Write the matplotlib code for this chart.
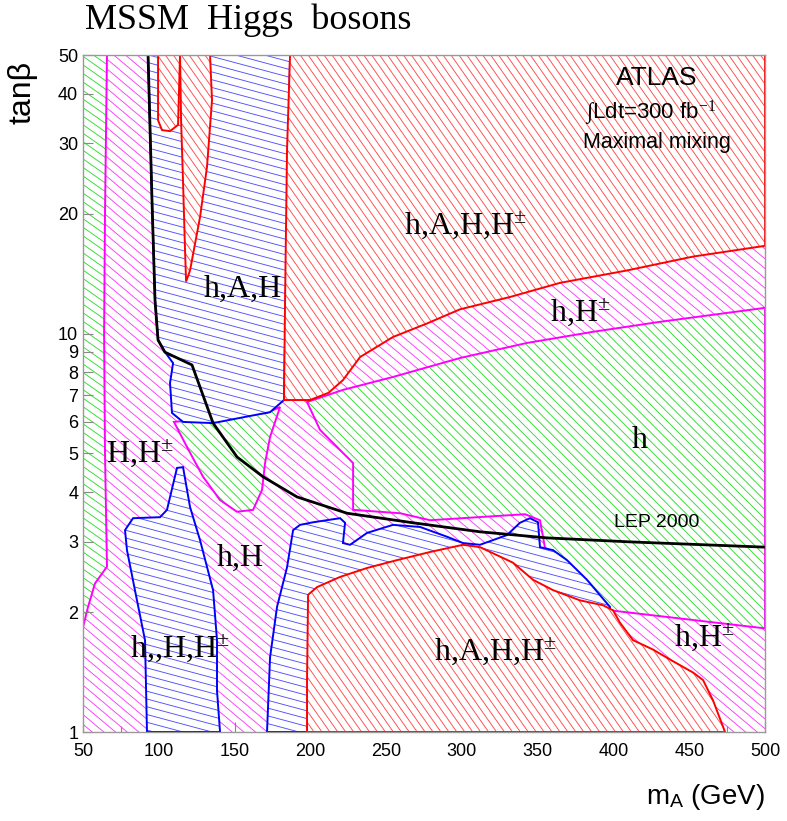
import numpy as np
import matplotlib.pyplot as plt
from matplotlib.patches import Polygon
from matplotlib.collections import LineCollection

plt.rcParams['mathtext.fontset'] = 'custom'
plt.rcParams['mathtext.rm'] = 'Liberation Serif'
plt.rcParams['mathtext.sf'] = 'Liberation Sans'
plt.rcParams['mathtext.it'] = 'Liberation Serif:italic'

# region boundaries: (m_A [GeV], tan beta)
green_strip_m = [50, 65.8, 64.5, 63.9, 64.5, 65.8, 57.9, 53.3, 50]
green_strip_tb = [50, 50, 20, 10, 5, 2.6, 2.36, 2.06, 1.83]

green_small_m = [110, 171.4, 180, 173.4, 170.1, 168.1, 162.2, 151.6, 140.4, 129.2, 118.6]
green_small_tb = [6.0, 6.32, 6.54, 5.50, 4.73, 4.05, 3.61, 3.57, 3.82, 4.37, 5.19]

green_h_m = [197.8, 221.5, 254.5, 298.7, 342.9, 386.5, 430.7, 500, 500,
             397.7, 382.5, 366.7, 354.8, 351.5, 341.6, 279, 259.2, 228.2, 228.2, 206.4]
green_h_tb = [6.73, 7.22, 7.78, 8.68, 9.47, 10.1, 10.7, 11.6, 1.82,
              2.02, 2.36, 2.70, 2.90, 3.40, 3.52, 3.40, 3.54, 3.61, 4.73, 5.73]

blue_aH_m = [92.9, 186.6, 182.6, 173.4, 135.8, 116, 108.7, 107.4, 109.4, 104.1, 99.5, 97.5, 95.5]
blue_aH_tb = [50, 50, 6.81, 6.35, 5.96, 6.0, 6.32, 7.51, 8.43, 8.98, 9.63, 12.1, 21.6]

blue_left_m = [92.2, 90.9, 85.6, 79, 77.7, 83, 100.8, 105.4, 112, 116, 120.6,
               127.2, 135.8, 138.4, 138.4, 140.4]
blue_left_tb = [1, 1.70, 2.14, 2.86, 3.21, 3.44, 3.46, 3.61, 4.60, 4.62, 3.67,
                3.03, 2.27, 1.70, 1.27, 1]

blue_mid_m = [171.4, 173.4, 178, 184.6, 188.6, 193.2, 201.8, 219.6, 222.9, 221.5,
              226.2, 237.4, 254.5, 272.4, 290.2, 300.7, 311.9, 329.7, 338.3, 344.9,
              350.2, 351.5, 360.1, 369.3, 382.5, 397.7, 391.1]
blue_mid_tb = [1, 1.54, 2.06, 2.59, 3.21, 3.31, 3.36, 3.44, 3.35, 2.98,
               2.95, 3.16, 3.31, 3.27, 3.09, 2.98, 2.95, 3.12, 3.35, 3.44,
               3.36, 2.91, 2.86, 2.70, 2.41, 2.06, 1]

red_top_m = [186.6, 184.6, 183.3, 182.6, 199.8, 212, 221.5, 232.8, 254.5, 277, 298.7,
             331.7, 364.7, 409, 452.5, 500, 500]
red_top_tb = [50, 28.9, 12.1, 6.81, 6.81, 7.1, 7.64, 8.73, 9.80, 10.6, 11.5,
              12.35, 13.4, 14.4, 15.6, 16.6, 50]

red_spike1_m = [99.5, 99.5, 102.1, 107.4, 112.7, 114]
red_spike1_tb = [50, 34.3, 32.4, 32.2, 33.4, 50]

red_spike2_m = [114, 114.7, 116, 117.3, 118, 120.6, 127.2, 131.8, 135.1, 133.8]
red_spike2_tb = [50, 34.3, 23.9, 16.2, 13.5, 14.4, 19.6, 26.2, 38.5, 50]

red_bot_m = [197.8, 197.8, 198.5, 204.4, 219.6, 237.4, 257.2, 279, 300.7, 311.9,
             333.7, 346.9, 360.1, 377.9, 393.1, 399.7, 404.3, 412.9, 426.1, 437.3,
             452.5, 459.1, 465.7, 473.6]
red_bot_tb = [1, 1.35, 2.21, 2.31, 2.45, 2.58, 2.70, 2.83, 2.95, 2.91,
              2.66, 2.41, 2.27, 2.14, 2.08, 2.02, 1.88, 1.70, 1.61, 1.52,
              1.41, 1.35, 1.20, 1]

lep_m = [92.9, 95.5, 97.5, 99.5, 104, 121.9, 135.8, 151.6, 168.8, 191.2, 224.2,
         267.7, 311.9, 356.2, 410.9, 500]
lep_tb = [50, 21.6, 12.1, 9.63, 8.98, 8.34, 5.96, 4.90, 4.37, 3.89, 3.54,
          3.35, 3.18, 3.07, 3.00, 2.91]

region_labels = [
    (302, 18.7, r"h,A,H,H$^{\pm}$"),
    (155.6, 12.9, "h,A,H"),
    (378, 11.3, r"h,H$^{\pm}$"),
    (417.5, 5.4, "h"),
    (87.6, 5.0, r"H,H$^{\pm}$"),
    (153.6, 2.73, "h,H"),
    (114, 1.62, r"h,,H,H$^{\pm}$"),
    (321.8, 1.59, r"h,A,H,H$^{\pm}$"),
    (460, 1.73, r"h,H$^{\pm}$"),
]

x_ticks = [50, 100, 150, 200, 250, 300, 350, 400, 450, 500]
y_ticks = [1, 2, 3, 4, 5, 6, 7, 8, 9, 10, 20, 30, 40, 50]

RED = '#ff4a4a'
MAG = '#ff3cff'
GRN = '#2ede2e'
BLU = '#5050ff'

fig = plt.figure(figsize=(7.87, 8.21), dpi=100)
ax = fig.add_axes([0.1055, 0.1084, 0.8666, 0.8246])
ax.set_xlim(50, 500)
ax.set_yscale('log')
ax.set_ylim(1, 50)


def add_hatch(clip, angle, spacing, color, z, lw=0.65):
    t = np.deg2rad(angle)
    d = np.array([np.cos(t), np.sin(t)])
    n = np.array([-np.sin(t), np.cos(t)])
    c = np.array([7.87 / 2, 8.21 / 2])
    L = 14
    segs = [[c + n * k - d * L, c + n * k + d * L] for k in np.arange(-L, L, spacing)]
    lc = LineCollection(segs, colors=color, linewidths=lw,
                        transform=fig.dpi_scale_trans, zorder=z)
    ax.add_collection(lc, autolim=False)
    lc.set_clip_path(clip)


def region(m, tb, color, angle, spacing, edge, z):
    xy = np.column_stack([m, tb])
    face = Polygon(xy, closed=True, facecolor='white', edgecolor='none', zorder=z)
    ax.add_patch(face)
    add_hatch(face, angle, spacing, color, z + 0.1)
    ax.add_patch(Polygon(xy, closed=True, fill=False, edgecolor=edge,
                         lw=1.4, zorder=z + 0.2))


# magenta background everywhere
add_hatch(ax.patch, -40, 0.075, MAG, 0.5)

region(green_strip_m, green_strip_tb, GRN, -35, 0.07, '#ff00ff', 1)
region(green_small_m, green_small_tb, GRN, -45, 0.065, '#ff00ff', 2)
region(green_h_m, green_h_tb, GRN, -45, 0.065, '#ff00ff', 3)
region(blue_aH_m, blue_aH_tb, BLU, -15, 0.075, 'blue', 4)
region(blue_left_m, blue_left_tb, BLU, -15, 0.075, 'blue', 5)
region(blue_mid_m, blue_mid_tb, BLU, -15, 0.075, 'blue', 6)
region(red_top_m, red_top_tb, RED, -55, 0.065, 'red', 7)
region(red_spike1_m, red_spike1_tb, RED, -55, 0.065, 'red', 8)
region(red_spike2_m, red_spike2_tb, RED, -55, 0.065, 'red', 9)
region(red_bot_m, red_bot_tb, RED, -55, 0.065, 'red', 10)

ax.plot(lep_m, lep_tb, color='black', lw=2.0, zorder=12)

for x, y, s in region_labels:
    ax.text(x, y, s, ha='center', va='center', fontsize=23,
            family='Liberation Serif', zorder=13)

ax.text(428.7, 3.36, "LEP 2000", ha='center', va='center', fontsize=14,
        family='Liberation Sans', zorder=13)
ax.text(0.841, 0.966, "ATLAS", transform=ax.transAxes, ha='center', va='center',
        fontsize=19, family='Liberation Sans', zorder=13)
ax.text(0.832, 0.914, r"$\int$Ldt=300 fb$^{-1}$", transform=ax.transAxes,
        ha='center', va='center', fontsize=16, family='Liberation Sans', zorder=13)
ax.text(0.841, 0.871, "Maximal mixing", transform=ax.transAxes, ha='center',
        va='center', fontsize=15.5, family='Liberation Sans', zorder=13)

ax.set_xticks(x_ticks)
ax.set_xticklabels([str(v) for v in x_ticks], family='Liberation Sans', fontsize=13)
ax.set_xticks([75, 125, 175, 225, 275, 325, 375, 425, 475], minor=True)
ax.set_yticks(y_ticks)
ax.set_yticklabels([str(v) for v in y_ticks], family='Liberation Sans', fontsize=13)
ax.yaxis.set_minor_locator(plt.NullLocator())
ax.tick_params(direction='in', length=7, width=0.8, color='#888888')
ax.tick_params(axis='x', pad=8)
ax.tick_params(which='minor', direction='in', length=4, width=0.8, color='#888888')
for sp in ax.spines.values():
    sp.set_color('#999999')
    sp.set_linewidth(1.0)
    sp.set_zorder(14)

fig.text(0.108, 0.9756, "MSSM  Higgs  bosons", family='Liberation Serif',
         fontsize=26, va='center', ha='left')
fig.text(0.972, 0.029, r"m$_{\mathsf{A}}$ (GeV)", family='Liberation Sans',
         fontsize=20, ha='right', va='center')
fig.text(0.029, 0.888, "tanβ", family='Liberation Sans', fontsize=23,
         rotation=90, ha='center', va='center')

fig.savefig("out.png", dpi=100)
